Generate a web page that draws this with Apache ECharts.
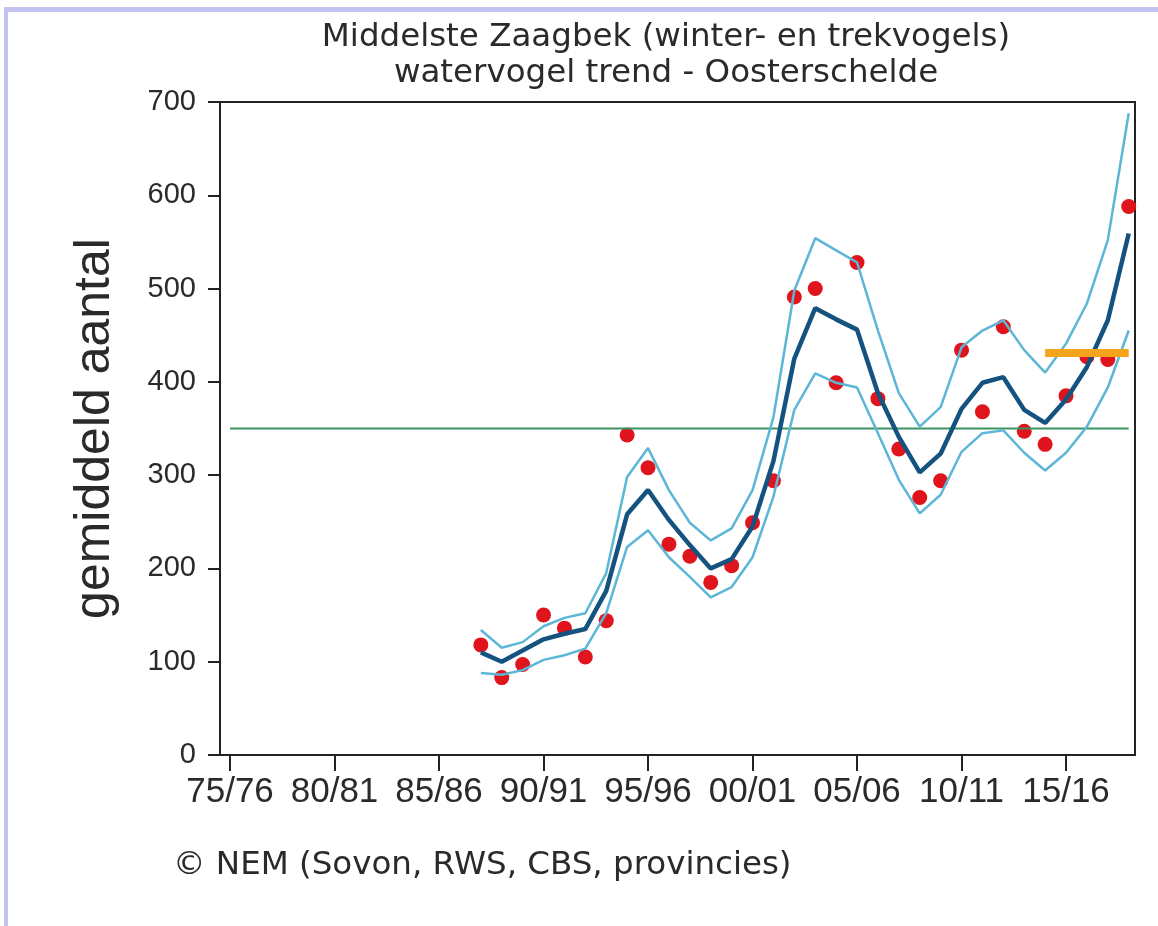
<!DOCTYPE html>
<html lang="nl">
<head>
	<meta charset="UTF-8">
	<title>Middelste Zaagbek - Oosterschelde</title>
	<style>
		* {
			margin: 0;
			padding: 0;
		}

		body {
			background: #fff;
		}

		#frame {
			position: absolute;
			left: 4px;
			top: 7px;
			width: 1200px;
			height: 1000px;
			border-left: 4px solid #c4c4f2;
			border-top: 5px solid #c4c4f2;
		}

		#box {
			position: absolute;
			left: 0;
			top: 0;
			width: 1158px;
			height: 926px;
		}
	</style>
	<script src="https://cdn.jsdelivr.net/npm/echarts@6.0.0/dist/echarts.min.js"></script>
</head>
<body>
<div id="frame"></div>
<div id="box"></div>
<script>
	// seizoenen met tellingen
	const seasons = ['87/88', '88/89', '89/90', '90/91', '91/92', '92/93', '93/94', '94/95', '95/96', '96/97',
		'97/98', '98/99', '99/00', '00/01', '01/02', '02/03', '03/04', '04/05', '05/06', '06/07',
		'07/08', '08/09', '09/10', '10/11', '11/12', '12/13', '13/14', '14/15', '15/16', '16/17',
		'17/18', '18/19'];

	// gemiddeld aantal per seizoen (rode stippen)
	const counts = [118, 83, 97, 150, 136, 105, 144, 343, 308, 226,
		213, 185, 203, 249, 294, 491, 500, 399, 528, 382,
		328, 276, 294, 434, 368, 459, 347, 333, 385, 427,
		424, 588];

	// trendlijn
	const trend = [110, 100, 112, 124, 130, 135, 176, 258, 284, 252,
		225, 200, 210, 245, 315, 425, 479, 467, 456, 388,
		341, 303, 323, 371, 399, 405, 370, 356, 381, 416,
		466, 559];

	// betrouwbaarheidsband
	const upper = [134, 115, 121, 138, 147, 152, 195, 298, 329, 284,
		249, 230, 243, 284, 362, 498, 554, 541, 528, 455,
		388, 352, 373, 437, 455, 466, 434, 410, 441, 484,
		552, 688];
	const lower = [88, 86, 91, 102, 107, 114, 152, 223, 241, 212,
		191, 169, 180, 212, 277, 370, 409, 399, 394, 345,
		295, 259, 279, 325, 345, 348, 324, 305, 324, 352,
		394, 455];

	// as-labels
	const tickLabels = ['75/76', '80/81', '85/86', '90/91', '95/96', '00/01', '05/06', '10/11', '15/16'];
	const yTicks = [0, 100, 200, 300, 400, 500, 600, 700];

	// referentieniveau (groen) en recent gemiddelde (oranje)
	const refSeasons = ['75/76', '18/19'];
	const refLevel = 350;
	const recentSeasons = ['14/15', '18/19'];
	const recentLevel = 431;

	function seasonIndex(s) {
		let y = parseInt(s.slice(0, 2), 10);
		if (y < 75) y += 100;
		return y - 75;
	}

	const pair = (arr) => seasons.map((s, i) => [seasonIndex(s), arr[i]]);

	const myEcharts = echarts.init(document.getElementById('box'));

	const tickFont = 'Liberation Sans, Arial, sans-serif';
	const textFont = 'DejaVu Sans, Verdana, sans-serif';

	myEcharts.setOption({
		animation: false,
		backgroundColor: 'transparent',
		grid: {
			left: 220,
			right: 23,
			top: 102,
			bottom: 171,
			show: true,
			borderColor: '#222',
			borderWidth: 2,
		},
		graphic: [
			{
				type: 'text', x: 666, y: 38,
				style: {
					text: 'Middelste Zaagbek (winter- en trekvogels)', font: '32.5px ' + textFont,
					fill: '#2a2a2a', textAlign: 'center', textVerticalAlign: 'middle',
				},
			},
			{
				type: 'text', x: 666, y: 74,
				style: {
					text: 'watervogel trend - Oosterschelde', font: '32.5px ' + textFont,
					fill: '#2a2a2a', textAlign: 'center', textVerticalAlign: 'middle',
				},
			},
			{
				type: 'text', x: 173, y: 866,
				style: {
					text: '© NEM (Sovon, RWS, CBS, provincies)', font: '32.5px ' + textFont,
					fill: '#2a2a2a', textAlign: 'left', textVerticalAlign: 'middle',
				},
			},
		],
		xAxis: {
			type: 'value',
			min: -0.48,
			max: 43.3,
			splitLine: {show: false},
			axisLine: {lineStyle: {color: '#222', width: 2}},
			axisTick: {
				length: 16,
				lineStyle: {color: '#222', width: 2},
				customValues: tickLabels.map(seasonIndex),
			},
			axisLabel: {
				customValues: tickLabels.map(seasonIndex),
				formatter: (v) => tickLabels[v / 5],
				fontFamily: tickFont,
				fontSize: 35,
				color: '#2a2a2a',
				margin: 20,
			},
		},
		yAxis: {
			type: 'value',
			min: yTicks[0],
			max: yTicks[yTicks.length - 1],
			interval: 100,
			name: 'gemiddeld aantal',
			nameLocation: 'middle',
			nameGap: 100,
			nameRotate: 90,
			nameTextStyle: {fontFamily: tickFont, fontSize: 50, color: '#2a2a2a'},
			splitLine: {show: false},
			axisLine: {show: true, onZero: false, lineStyle: {color: '#222', width: 2}},
			axisTick: {show: true, length: 12, lineStyle: {color: '#222', width: 2}},
			axisLabel: {fontFamily: tickFont, fontSize: 29, color: '#2a2a2a', margin: 24},
		},
		series: [
			{
				type: 'line', symbol: 'none',
				data: refSeasons.map(s => [seasonIndex(s), refLevel]),
				lineStyle: {color: '#3a9460', width: 2},
			},
			{
				type: 'line', symbol: 'none', data: pair(upper),
				lineStyle: {color: '#5cb6d6', width: 2.5},
			},
			{
				type: 'line', symbol: 'none', data: pair(lower),
				lineStyle: {color: '#5cb6d6', width: 2.5},
			},
			{
				type: 'line', symbol: 'none', data: pair(trend),
				lineStyle: {color: '#14527f', width: 4.5},
			},
			{
				type: 'line', symbol: 'none',
				data: recentSeasons.map(s => [seasonIndex(s), recentLevel]),
				lineStyle: {color: '#f5a51c', width: 8},
			},
			{
				type: 'scatter', symbol: 'circle', symbolSize: 15, data: pair(counts),
				itemStyle: {color: '#e0141c', opacity: 1},
			},
		],
	});
</script>
</body>
</html>
